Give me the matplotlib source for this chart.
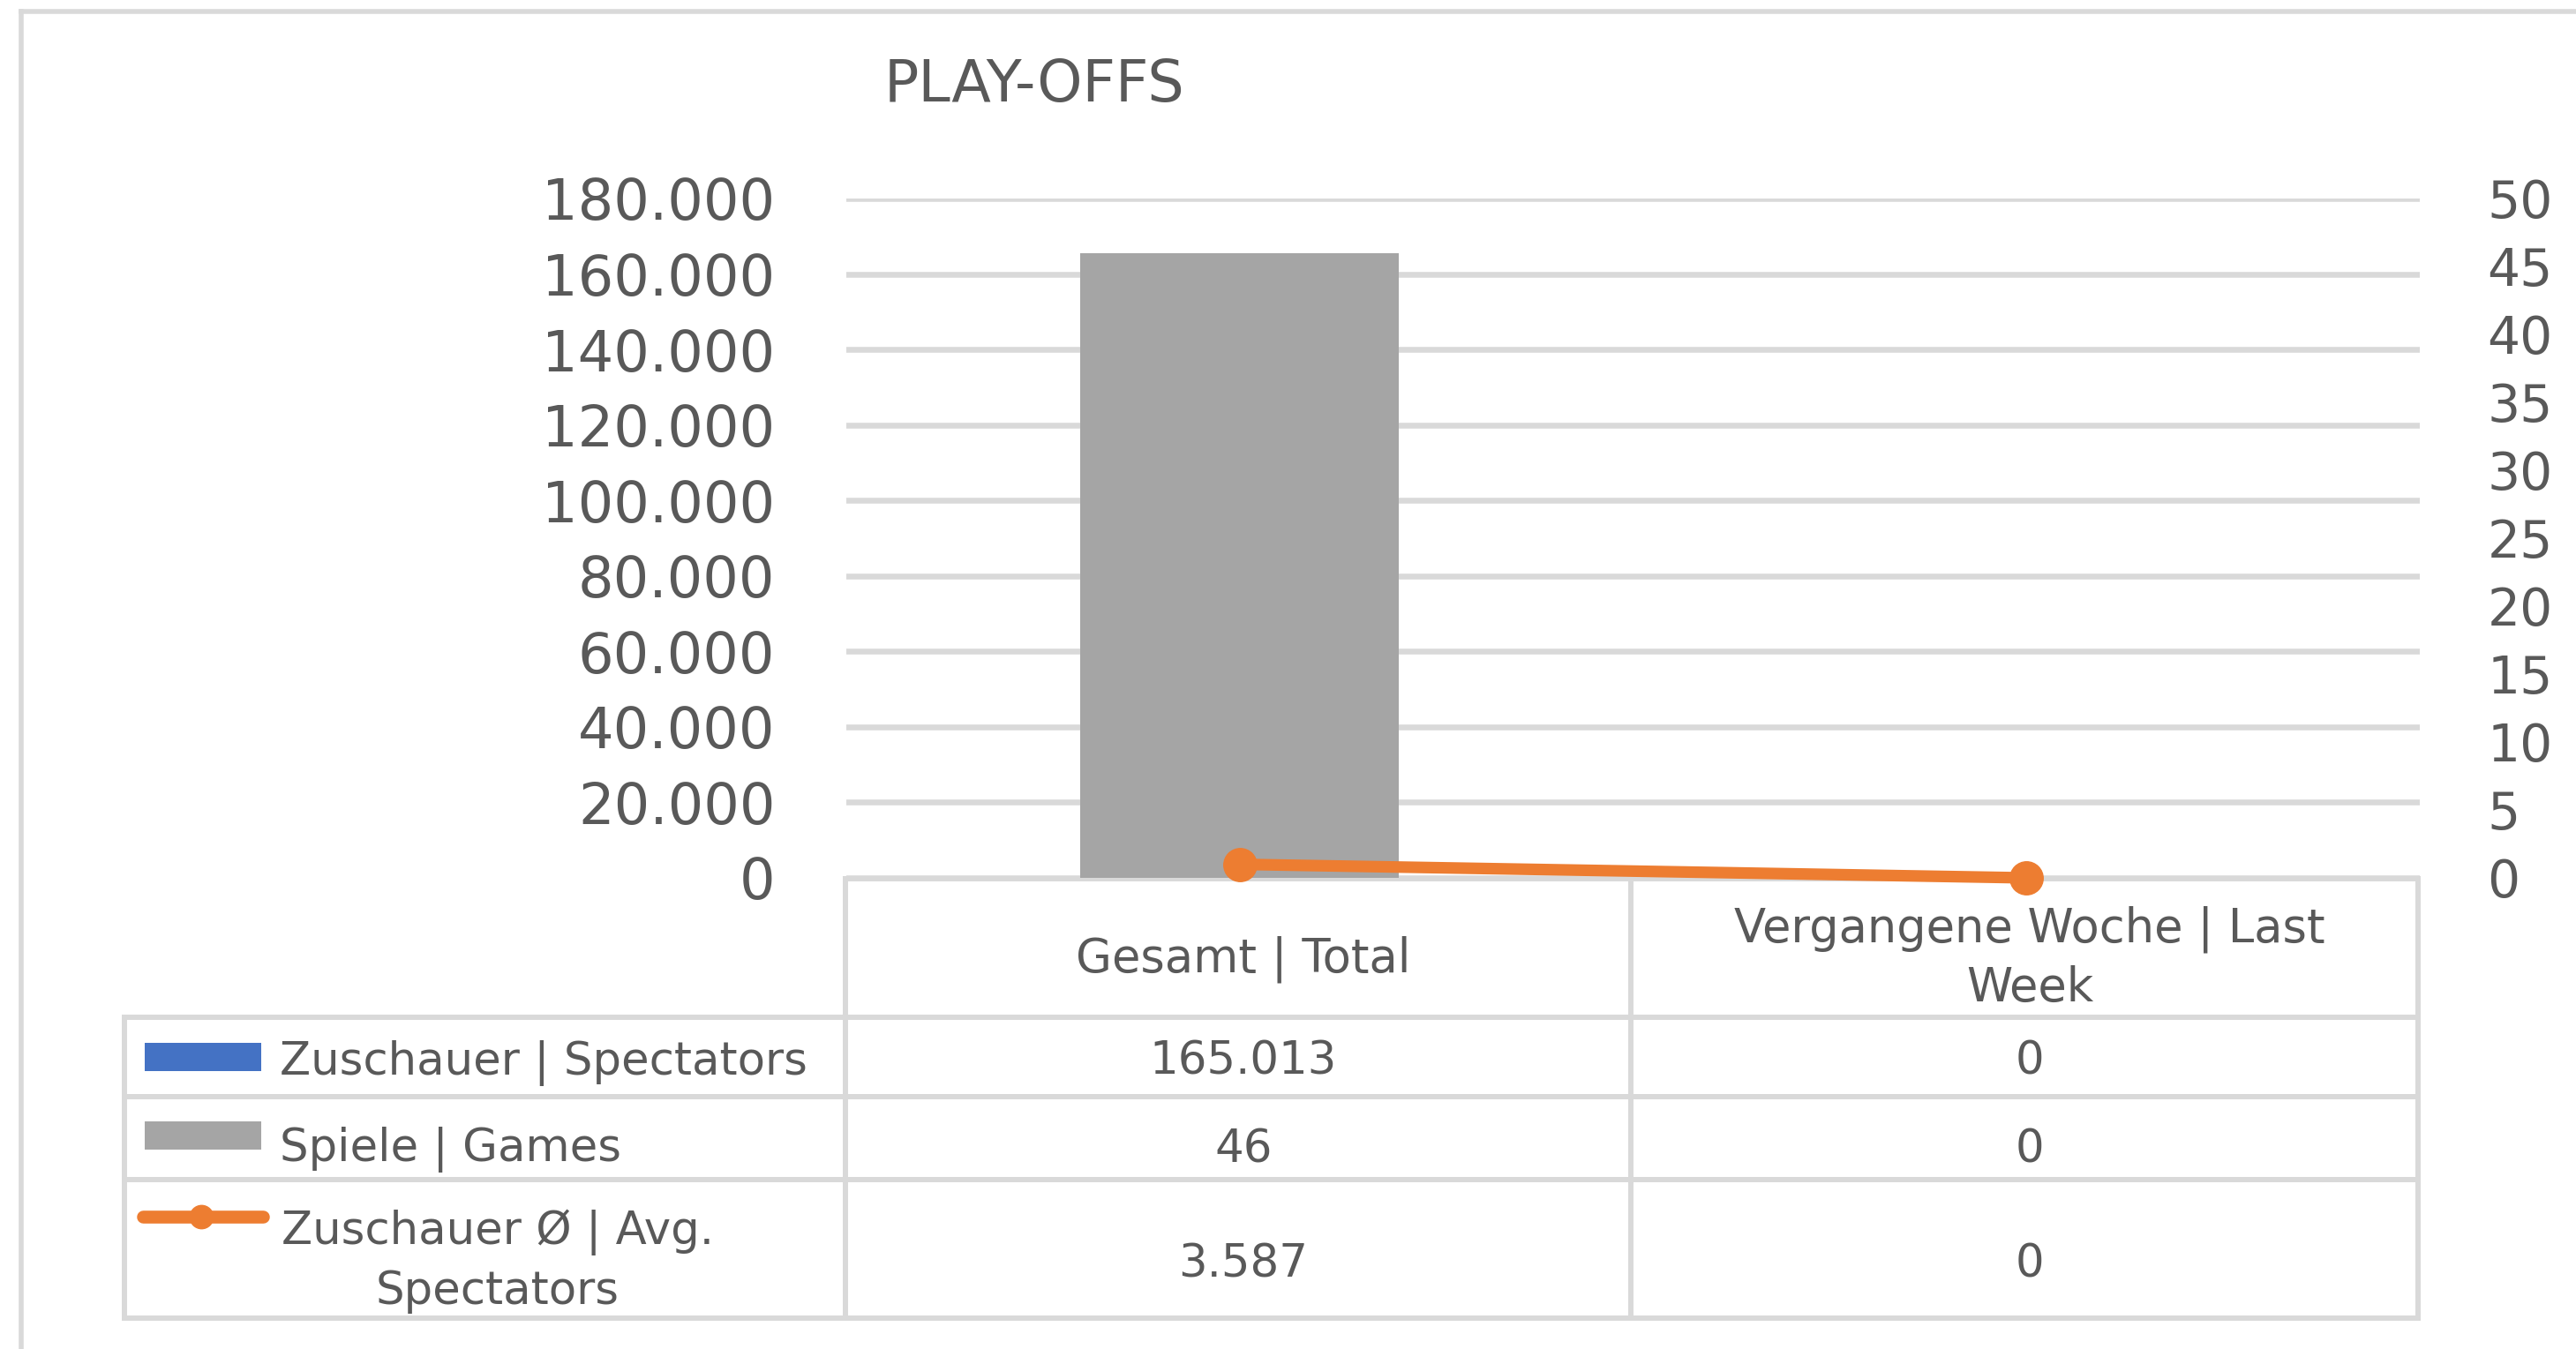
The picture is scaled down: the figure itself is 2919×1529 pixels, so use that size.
import textwrap
import matplotlib
matplotlib.use("Agg")
import matplotlib.pyplot as plt
from matplotlib.ticker import FuncFormatter
from matplotlib.patches import Rectangle

# ---------------- data ----------------
categories = ["Gesamt | Total", "Vergangene Woche | Last Week"]
spectators = [165013, 0]
games = [46, 0]
avg_spectators = [3587, 0]
series_names = ["Zuschauer | Spectators", "Spiele | Games", "Zuschauer Ø | Avg. Spectators"]
title = "PLAY-OFFS"

# ---------------- style ----------------
W, H = 2919, 1529
TXT = "#595959"
GRID = "#d9d9d9"
C_BLUE = "#4472c4"
C_GRAY = "#a5a5a5"
C_ORANGE = "#ed7d31"
plt.rcParams["font.family"] = ["DejaVu Sans"]

fig = plt.figure(figsize=(W / 100, H / 100), dpi=100)


def fx(px):
    return px / W


def fy(py):
    return 1 - py / H


# overlay in pixel coordinates for the chart frame and data table
tab = fig.add_axes([0, 0, 1, 1], zorder=0)
tab.set_xlim(0, W)
tab.set_ylim(H, 0)
tab.axis("off")

# plot area
PL, PR, PT, PB = 959, 2742, 225, 995
ax = fig.add_axes([fx(PL), fy(PB), (PR - PL) / W, (PB - PT) / H], zorder=1)
ax.patch.set_alpha(0)
x = list(range(len(categories)))
bw = 0.405

ax.bar(x, spectators, width=bw, color=C_BLUE, zorder=2)
ax.set_xlim(-0.5, len(categories) - 0.5)
ax.set_ylim(0, 180000)
ax.set_yticks(range(0, 180001, 20000))
ax.yaxis.set_major_formatter(FuncFormatter(lambda v, p: f"{int(v):,}".replace(",", ".")))
ax.grid(axis="y", color=GRID, lw=4.7)
ax.set_axisbelow(True)
ax.set_xticks([])
ax.tick_params(axis="y", length=0, pad=58, labelsize=46, labelcolor=TXT)

ax2 = ax.twinx()
ax2.bar(x, games, width=bw, color=C_GRAY, zorder=2)
ax2.set_ylim(0, 50)
ax2.set_yticks(range(0, 51, 5))
ax2.tick_params(axis="y", length=0, pad=55, labelsize=42, labelcolor=TXT)

ax3 = ax.twinx()
ax3.set_ylim(0, 180000)
ax3.plot(x, avg_spectators, color=C_ORANGE, lw=9.5, marker="o", ms=27,
         clip_on=False, solid_capstyle="round", zorder=3)
ax3.axis("off")

for a in (ax, ax2, ax3):
    for s in a.spines.values():
        s.set_visible(False)

# title
tab.text(1172, 115, title, ha="center", va="baseline", fontsize=47, color=TXT)

# chart frame (top and left edges visible)
tab.plot([24, W], [13, 13], color=GRID, lw=4, solid_capstyle="projecting")
tab.plot([24, 24], [13, H], color=GRID, lw=4, solid_capstyle="projecting")

# ---------------- data table ----------------
TL = 141
col_edges = [PL - 1, 1848, PR - 2]
rows = [996, 1153, 1243, 1337, 1494]
lw_t = 4.3
tab.plot([col_edges[0], col_edges[-1]], [rows[0], rows[0]], color=GRID, lw=lw_t, solid_capstyle="projecting")
for r in rows[1:]:
    tab.plot([TL, col_edges[-1]], [r, r], color=GRID, lw=lw_t, solid_capstyle="projecting")
tab.plot([TL, TL], [rows[1], rows[-1]], color=GRID, lw=lw_t, solid_capstyle="projecting")
for c in col_edges:
    tab.plot([c, c], [rows[0], rows[-1]], color=GRID, lw=lw_t, solid_capstyle="projecting")

col_centers = [(col_edges[i] + col_edges[i + 1]) / 2 + 6 for i in range(len(categories))]
FS = 37

# header
for i, cat in enumerate(categories):
    lines = textwrap.fill(cat, width=23).split("\n")
    sp = 67
    b0 = 1101.5 - (len(lines) - 1) * sp / 2
    for j, ln in enumerate(lines):
        tab.text(col_centers[i], b0 + j * sp, ln, ha="center", va="baseline", fontsize=FS + 1, color=TXT)

# row labels with legend keys
row_base = [1218, 1318, 1447]
lab_base = [1218, 1316, 1444]
for k, name in enumerate(series_names):
    lines = textwrap.fill(name, width=22).split("\n")
    if len(lines) == 1:
        tab.text(317, lab_base[k], name, ha="left", va="baseline", fontsize=FS, color=TXT)
    else:
        sp = 68
        b0 = lab_base[k] - (len(lines) - 1) * sp / 2
        for j, ln in enumerate(lines):
            tab.text(564, b0 + j * sp, ln, ha="center", va="baseline", fontsize=FS, color=TXT)

tab.add_patch(Rectangle((164, 1182), 132, 32, color=C_BLUE, lw=0))
tab.add_patch(Rectangle((164, 1271), 132, 32, color=C_GRAY, lw=0))
tab.plot([162, 298], [1379, 1379], color=C_ORANGE, lw=10.5, solid_capstyle="round")
tab.plot([228], [1379], marker="o", ms=19, color=C_ORANGE)

# values
series_vals = [spectators, games, avg_spectators]
for k, vals in enumerate(series_vals):
    for i, v in enumerate(vals):
        tab.text(col_centers[i], row_base[k], f"{v:,}".replace(",", "."), ha="center",
                 va="baseline", fontsize=FS, color=TXT)

fig.savefig("out.png", dpi=100, facecolor="white")
